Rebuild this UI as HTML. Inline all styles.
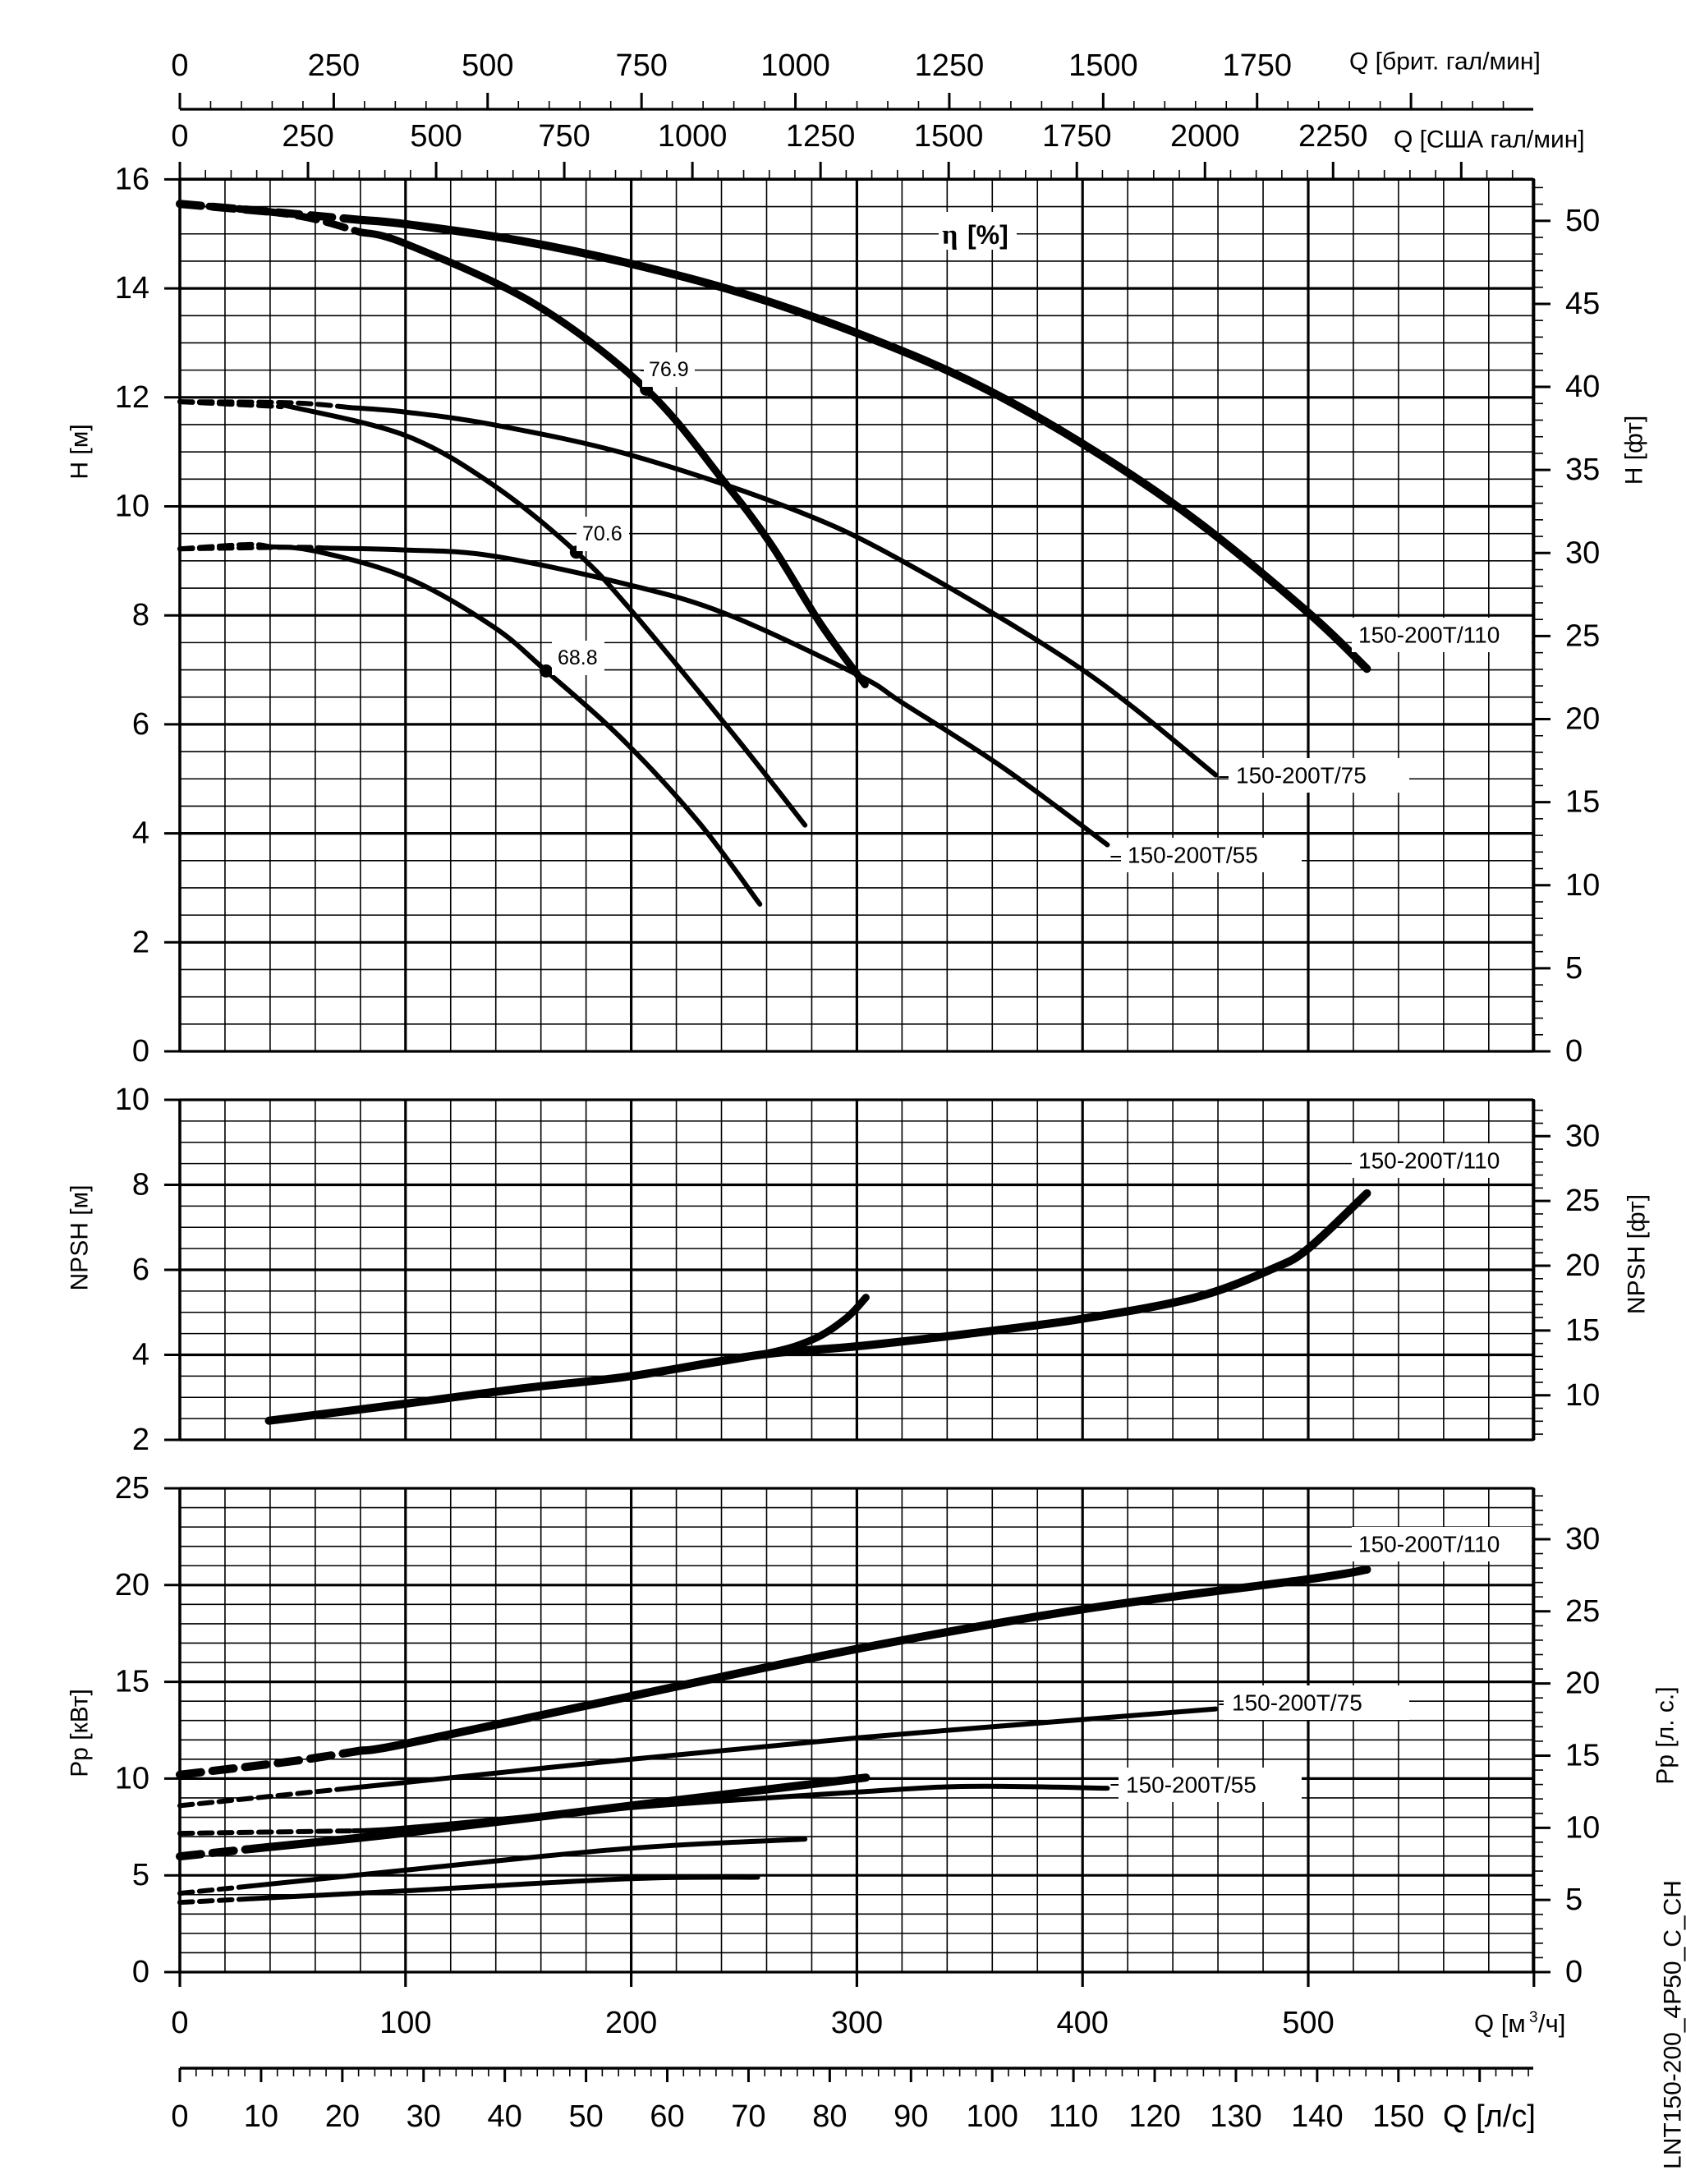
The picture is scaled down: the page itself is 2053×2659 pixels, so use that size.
<!DOCTYPE html>
<html><head><meta charset="utf-8">
<style>html,body{margin:0;padding:0;background:#fff}svg{display:block}</style>
</head><body>
<svg id="s" xmlns="http://www.w3.org/2000/svg" width="2053" height="2659" viewBox="0 0 2053 2659" font-family="Liberation Sans, DejaVu Sans, sans-serif">
<rect width="2053" height="2659" fill="#fff"/>
<g id="grid"></g>
<g id="curves"></g>
<g id="labels"></g>
</svg>
<script>
var NS="http://www.w3.org/2000/svg";
function el(p,t,a,txt){var e=document.createElementNS(NS,t);for(var k in a)e.setAttribute(k,a[k]);if(txt!==undefined)e.textContent=txt;document.getElementById(p).appendChild(e);return e;}
var L=219,R=1867;
function X(q){return L+q*2.748;}
function YH(h){return 1280-h*66.35;}
function YN(m){return 1339+(10-m)*51.75;}
function YP(p){return 2401-p*23.56;}
function line(g,x1,y1,x2,y2,w){el(g,'line',{x1:x1,y1:y1,x2:x2,y2:y2,stroke:'#000','stroke-width':w});}
function txt(g,x,y,s,size,anchor,extra){var a={x:x,y:y,'font-size':size,'text-anchor':anchor||'start','dominant-baseline':'central',fill:'#000'};for(var k in extra)a[k]=extra[k];return el(g,'text',a,s);}
var panels=[{t:218,b:1280,Y:YH,min:0,max:16,minor:0.5,major:2},{t:1339,b:1753,Y:YN,min:2,max:10,minor:0.5,major:2},{t:1812,b:2401,Y:YP,min:0,max:25,minor:1,major:5}];
panels.forEach(function(p){
  for(var q=0;q<=600;q+=20){var maj=q%100==0;line('grid',X(q),p.t,X(q),p.b,maj?3.2:1.6);}
  for(var v=p.min;v<=p.max+1e-6;v+=p.minor){var maj=Math.abs(v/p.major-Math.round(v/p.major))<1e-6;line('grid',L,p.Y(v),R,p.Y(v),maj?3.2:1.6);
    if(maj){line('grid',200,p.Y(v),L,p.Y(v),3);txt('labels',182,p.Y(v),String(Math.round(v)),38,'end');}}
  line('grid',L,p.t-1,L,p.b+1,3.5);line('grid',R,p.t-1,R,p.b+1,3.5);
});
function rightAxis(Yf,unit,vmin,vmax,step,lab){
  for(var v=vmin;v<=vmax;v+=1){var y=Yf(v*unit);var maj=v%step==0;line('grid',R,y,R+(maj?21:12),y,maj?3:1.6);
    if(maj&&v>=lab[0]&&v<=lab[1])txt('labels',1906,y,String(v),38,'start');}
}
rightAxis(YH,0.3048,0,52,5,[0,50]);
rightAxis(function(m){return YN(m);},0.3048,7,32,5,[10,30]);
rightAxis(YP,0.7457,0,33,5,[0,30]);
line('grid',L,218,R,218,3.2);
for(var g=0;g<=2600;g+=50){var q=g*0.22712;if(q>600)break;var maj=g%250==0;line('grid',X(q),218,X(q),maj?197:207,maj?3:1.6);if(maj&&g<=2250)txt('labels',X(q),166,String(g),38,'middle');}
line('grid',L,133,R,133,3.2);
for(var g=0;g<=2200;g+=50){var q=g*0.272765;if(q>600)break;var maj=g%250==0;line('grid',X(q),133,X(q),maj?113:123,maj?3:1.6);if(maj&&g<=1750)txt('labels',X(q),80,String(g),38,'middle');}
txt('labels',1643,75,'Q [брит. гал/мин]',30,'start');
txt('labels',1697,170,'Q [США гал/мин]',30,'start');
for(var q=0;q<=600;q+=100){line('grid',X(q),2401,X(q),2419,3.2);if(q<600)txt('labels',X(q),2463,String(q),38,'middle');}
el('labels','text',{x:1795,y:2474,'font-size':31},'Q [м');
el('labels','text',{x:1862,y:2462,'font-size':19},'3');
el('labels','text',{x:1873,y:2474,'font-size':31},'/ч]');
line('grid',L,2518,R,2518,3.5);
for(var l=0;l<=166;l+=2){var x=L+l*9.892;if(x>R+1)break;var maj=l%10==0;line('grid',x,2518,x,maj?2535:2528,maj?3:1.6);if(maj&&l<=150)txt('labels',x,2577,String(l),38,'middle');}
txt('labels',1757,2577,'Q [л/с]',38,'start');
function rtxt(x,y,s,size){el('labels','text',{x:0,y:0,'font-size':size,'text-anchor':'middle','dominant-baseline':'central',transform:'translate('+x+','+y+') rotate(-90)'},s);}
rtxt(97,550,'H [м]',30);rtxt(97,1507,'NPSH [м]',30);rtxt(97,2110,'Pp [кВт]',30);
rtxt(1990,548,'H [фт]',30);rtxt(1993,1527,'NPSH [фт]',30);rtxt(2028,2113,'Pp [л. с.]',30);
rtxt(2037,2465,'LNT150-200_4P50_C_CH',30);
function path(pts,Yf){var P=pts.map(function(p){return [X(p[0]),Yf(p[1])];});var d='M'+P[0][0]+','+P[0][1];
  for(var i=0;i<P.length-1;i++){var p0=P[i-1]||P[i],p1=P[i],p2=P[i+1],p3=P[i+2]||P[i+1];
    d+=' C'+(p1[0]+(p2[0]-p0[0])/6)+','+(p1[1]+(p2[1]-p0[1])/6)+' '+(p2[0]-(p3[0]-p1[0])/6)+','+(p2[1]-(p3[1]-p1[1])/6)+' '+p2[0]+','+p2[1];}
  return d;}
function interp(pts,q){for(var i=0;i<pts.length-1;i++){if(q>=pts[i][0]&&q<=pts[i+1][0]){var t=(q-pts[i][0])/(pts[i+1][0]-pts[i][0]);return pts[i][1]+t*(pts[i+1][1]-pts[i][1]);}}return pts[pts.length-1][1];}
function curve(pts,Yf,w,qd){
  if(qd){var a=pts.filter(function(p){return p[0]<qd;});a.push([qd,interp(pts,qd)]);
    var b=[[qd,interp(pts,qd)]].concat(pts.filter(function(p){return p[0]>qd;}));
    el('curves','path',{d:path(a,Yf),fill:'none',stroke:'#000','stroke-width':w,'stroke-dasharray':(w*2.6)+','+(w*1.4),'stroke-linecap':'round'});
    el('curves','path',{d:path(b,Yf),fill:'none',stroke:'#000','stroke-width':w,'stroke-linecap':'round'});}
  else el('curves','path',{d:path(pts,Yf),fill:'none',stroke:'#000','stroke-width':w,'stroke-linecap':'round'});}
curve([[0,15.55],[50,15.37],[100,15.18],[150,14.88],[200,14.45],[250,13.9],[300,13.18],[350,12.3],[400,11.15],[450,9.75],[500,8.05],[526,7.02]],YH,10,80);
curve([[0,15.55],[50,15.35],[100,14.82],[157,13.72],[206.7,12.15],[241.6,10.43],[262,9.3],[284,7.84],[303.6,6.73]],YH,9,80);
curve([[0,11.92],[50,11.9],[100,11.73],[138.6,11.5],[199,10.95],[269.5,9.98],[320,9.0],[400,7.0],[459,5.07]],YH,6,75);
curve([[0,11.92],[50,11.82],[100,11.3],[138.6,10.4],[175.7,9.16],[200,8.09],[247,5.73],[277,4.15]],YH,6,45);
curve([[0,9.22],[50,9.25],[100,9.2],[138.6,9.09],[199,8.56],[242.5,8.02],[300.7,6.9],[320,6.4],[365,5.2],[411,3.79]],YH,6,65);
curve([[0,9.22],[30,9.3],[60,9.18],[100,8.7],[138.6,7.8],[162.3,6.98],[196,5.73],[230,4.2],[257,2.7]],YH,6,40);
[[206.7,12.15],[175.7,9.16],[162.3,6.98]].forEach(function(p){el('curves','circle',{cx:X(p[0]),cy:YH(p[1]),r:8,fill:'#000'});});
curve([[39.5,2.45],[100,2.85],[150,3.2],[200,3.5],[257,4.0],[300,4.2],[350,4.5],[400,4.85],[450,5.35],[484,6.02],[500,6.5],[526,7.8]],YN,10);
curve([[200,3.5],[257,4.0],[280,4.35],[295,4.85],[304,5.35]],YN,9);
curve([[0,10.2],[50,10.9],[100,11.8],[200,14.26],[300,16.7],[400,18.75],[500,20.3],[526,20.8]],YP,10,80);
curve([[0,8.6],[100,9.8],[200,11.0],[300,12.1],[400,13.05],[459,13.6]],YP,6,75);
curve([[0,7.17],[77,7.3],[100,7.45],[200,8.5],[300,9.3],[350,9.6],[411,9.5]],YP,6,77);
curve([[0,5.98],[100,7.2],[200,8.6],[304,10.05]],YP,10,32);
curve([[0,4.07],[100,5.27],[200,6.4],[277,6.87]],YP,6,32);
curve([[0,3.6],[100,4.2],[200,4.83],[256,4.9]],YP,6,32);
function blabel(x,y,s,size,bx1,bx2,bold){el('labels','rect',{x:bx1,y:y-21,width:bx2-bx1,height:42,fill:'#fff'});txt('labels',x,y,s,size,'start',bold?{'font-weight':'bold'}:{});}
blabel(1654,773,'150-200T/110',28,1646,1865);
blabel(1505,944,'150-200T/75',28,1496,1716);line('labels',X(459)+4,946,1496,946,2);
blabel(1373,1041,'150-200T/55',28,1365,1585);line('labels',X(411)+4,1043,1365,1043,2);
blabel(1654,1413,'150-200T/110',28,1646,1865);
blabel(1654,1880,'150-200T/110',28,1646,1865);
blabel(1500,2073,'150-200T/75',28,1490,1716);line('labels',X(459)+4,2075,1490,2075,2);
blabel(1371,2173,'150-200T/55',28,1362,1585);line('labels',X(411)+4,2173,1362,2173,2);
el('labels','rect',{x:1143,y:258,width:95,height:46,fill:'#fff'});
el('labels','text',{x:1147,y:297,'font-size':34,'font-weight':'bold','font-family':'Liberation Serif, DejaVu Serif, serif'},'η');
el('labels','text',{x:1178,y:297,'font-size':32,'font-weight':'bold'},'[%]');
blabel(790,450,'76.9',25,782,846);line('labels',780,451,784,451,2);
blabel(709,650,'70.6',25,702,766);
blabel(679,801,'68.8',25,672,736);
</script>
</body></html>
